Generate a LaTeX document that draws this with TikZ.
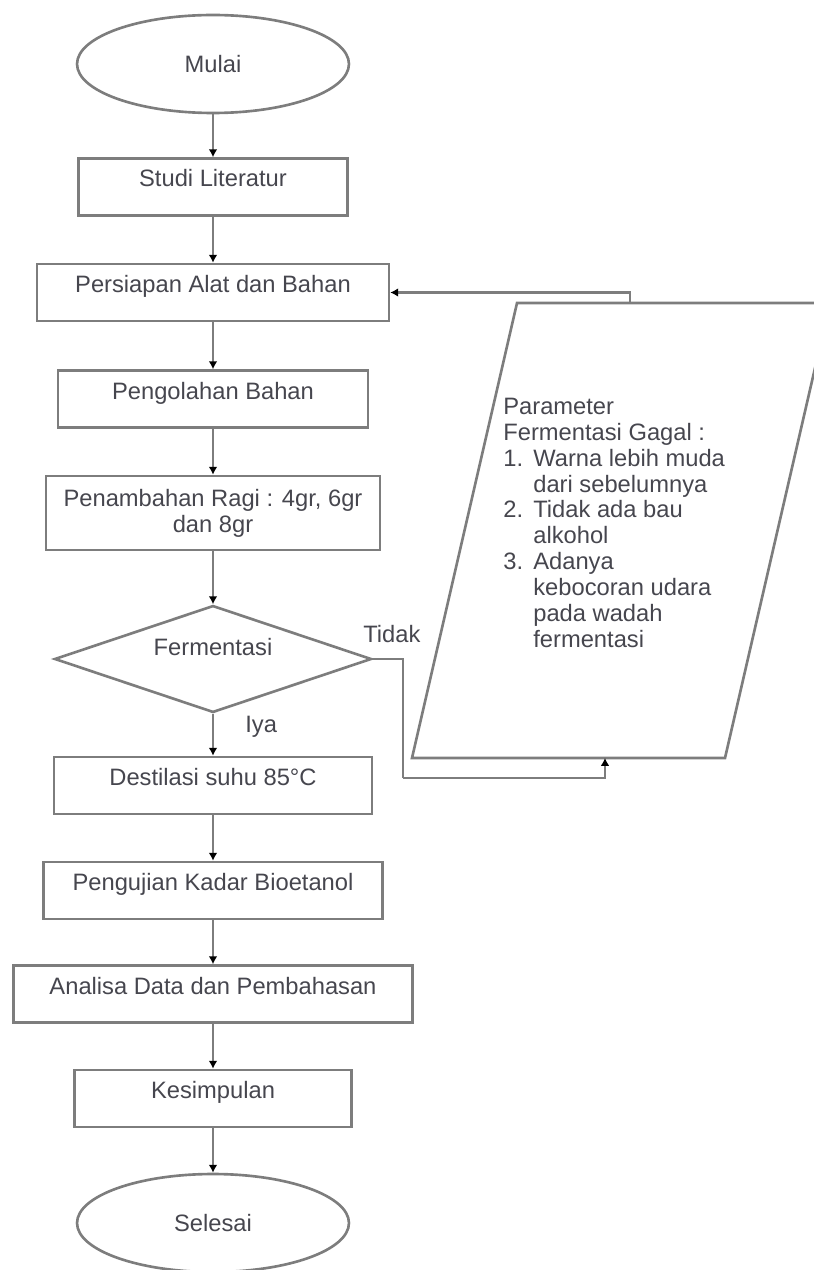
\documentclass[tikz,border=0pt]{standalone}
\usepackage{fontspec}
\setmainfont{Liberation Sans}
\usetikzlibrary{shapes.geometric,arrows.meta}

\definecolor{flowgray}{RGB}{125,125,125}
\definecolor{flowtext}{RGB}{70,70,78}

\tikzset{
	line/.style={draw=flowgray, line width=1.5pt},
	arrow/.style={line, -{Latex[length=4.5pt,width=5pt,color=black]}},
	box/.style={line, rectangle, inner sep=0pt, text height=0.57cm, text depth=0.57cm},
	terminal/.style={line, ellipse, inner sep=0pt, minimum width=5.44cm, minimum height=1.96cm},
	decision/.style={line, diamond, aspect=3, inner sep=0pt, text depth=0.5cm, minimum width=6.34cm, minimum height=2.14cm},
	every node/.style={font=\fontsize{13.5}{14.7}\selectfont, text=flowtext}
}

\begin{document}
\begin{tikzpicture}[x=0.02cm, y=-0.02cm]
							% Fix the page to the size of the reference
							\useasboundingbox (0,0) rectangle (814,1270);
							
							% Start and end
							\node[terminal] (mulai) at (213,64) {Mulai};
							\node[terminal] (selesai) at (213,1223) {Selesai};
							
							% Steps of the main column
							\node[box, minimum width=5.38cm] (studi) at (213,187) {Studi Literatur};
							\node[box, minimum width=7.04cm] (persiapan) at (213,292.5) {Persiapan  Alat dan Bahan};
							\node[box, minimum width=6.2cm] (olah) at (213,399) {Pengolahan  Bahan};
							\node[line, rectangle, inner sep=0pt, minimum width=6.68cm, minimum height=1.48cm, align=center] (ragi) at (213,513) {Penambahan Ragi : 4gr, 6gr\\dan 8gr};
							\node[decision] (ferm) at (213,659) {Fermentasi};
							\node[box, minimum width=6.36cm] (destilasi) at (213,785.5) {Destilasi suhu 85\textdegree C};
							\node[box, minimum width=6.78cm] (uji) at (213,890.5) {Pengujian  Kadar Bioetanol};
							\node[box, minimum width=7.98cm] (analisa) at (213,994) {Analisa Data dan  Pembahasan};
							\node[box, minimum width=5.54cm] (simpul) at (213,1098.5) {Kesimpulan};
							
							% Arrows down the main column
							\foreach \a/\b in {mulai/studi, studi/persiapan, persiapan/olah, olah/ragi, ragi/ferm, ferm/destilasi, destilasi/uji, uji/analisa, analisa/simpul, simpul/selesai}
							\draw[arrow] (\a) -- (\b);
							
							% Parameter box (parallelogram)
							\draw[line] (517,303) -- (830,303) -- (725,758) -- (412,758) -- cycle;
							\coordinate (partop) at (630,303);
							\coordinate (parbot) at (605,758);
							\node[anchor=north west, inner sep=0pt, align=left] (param) at (503,398) {Parameter\\Fermentasi Gagal :\\
								\makebox[0.6cm][l]{1.}Warna lebih muda\\\hspace*{0.6cm}dari sebelumnya\\
								\makebox[0.6cm][l]{2.}Tidak ada bau\\\hspace*{0.6cm}alkohol\\
								\makebox[0.6cm][l]{3.}Adanya\\\hspace*{0.6cm}kebocoran udara\\\hspace*{0.6cm}pada wadah\\\hspace*{0.6cm}fermentasi};
							
							% Branch labels
							\node[anchor=west, inner sep=0pt] (tidak) at (363,634) {Tidak};
							\node[anchor=west, inner sep=0pt] (iya) at (245,727) {Iya};
							
							% Failed fermentation goes to the parameter box, and back to Persiapan
							\coordinate (tidakturn) at (403,778);
							\draw[line] (ferm.east) -| (tidakturn);
							\draw[arrow] (tidakturn) -| (parbot);
							\draw[arrow] (partop) |- (persiapan.east);
						\end{tikzpicture}
\end{document}
